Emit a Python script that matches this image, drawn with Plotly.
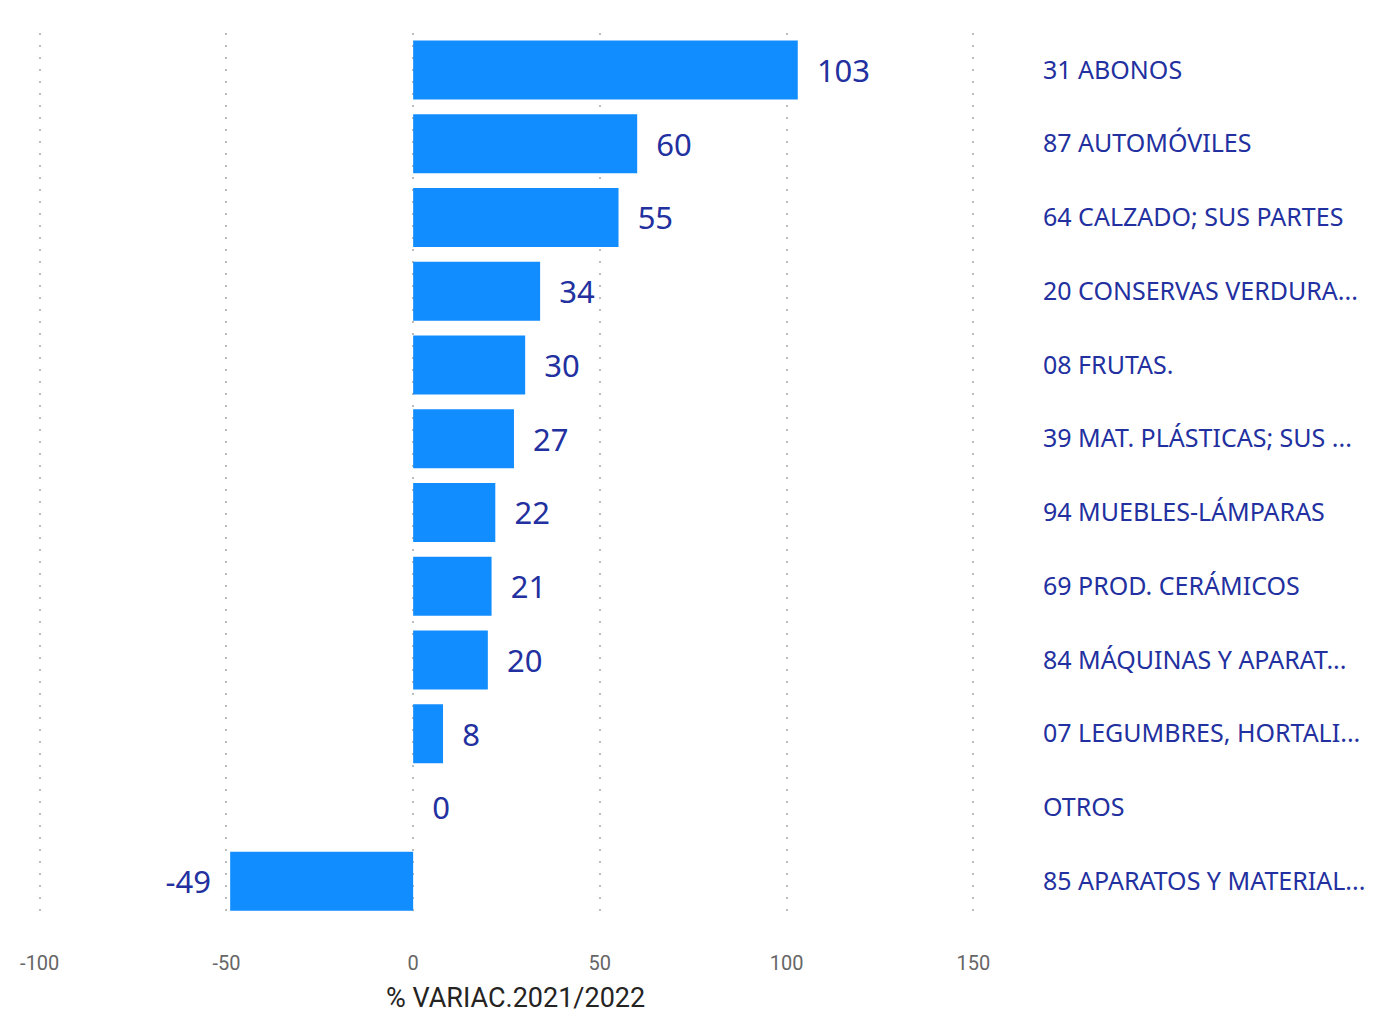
import plotly.graph_objects as go

categories = [
    "31 ABONOS",
    "87 AUTOMÓVILES",
    "64 CALZADO; SUS PARTES",
    "20 CONSERVAS VERDURA...",
    "08 FRUTAS.",
    "39 MAT. PLÁSTICAS; SUS ...",
    "94 MUEBLES-LÁMPARAS",
    "69 PROD. CERÁMICOS",
    "84 MÁQUINAS Y APARAT...",
    "07 LEGUMBRES, HORTALI...",
    "OTROS",
    "85 APARATOS Y MATERIAL...",
]
values = [103, 60, 55, 34, 30, 27, 22, 21, 20, 8, 0, -49]
x_ticks = [-100, -50, 0, 50, 100, 150]
x_title = "% VARIAC.2021/2022"

W, H = 1375, 1012
OFF = 8  # page body margin
# pixel layout (figure coords): -100 -> 32px, 150 -> 965px
px_m100, px_150 = 40 - OFF, 973 - OFF
ppu = (px_150 - px_m100) / 250.0
x_lo, x_hi = -101, 151
left_px = px_m100 + (x_lo + 100) * ppu
right_px = px_150 + (x_hi - 150) * ppu
top_px, bottom_px = 33 - OFF, 918 - OFF

labels = [("\u00a0\u00a0" + str(v)) if v >= 0 else (str(v) + "\u00a0\u00a0") for v in values]

fig = go.Figure(go.Bar(
    x=values,
    y=categories,
    orientation="h",
    marker=dict(color="#118DFF", line=dict(width=0)),
    text=labels,
    textposition="outside",
    cliponaxis=False,
    textfont=dict(family="Segoe UI, Noto Sans, sans-serif", size=31, color="#2230A0"),
    width=0.8,
))

fig.update_layout(
    width=W, height=H,
    margin=dict(l=left_px, r=W - right_px, t=top_px, b=H - bottom_px, pad=0, autoexpand=False),
    plot_bgcolor="white", paper_bgcolor="white",
    showlegend=False,
    bargap=0.2,
    annotations=[dict(
        text=x_title, xref="paper", yref="paper",
        x=(515 - OFF - left_px) / (right_px - left_px), y=0,
        yshift=-(998 - OFF - bottom_px), xanchor="center", yanchor="middle",
        showarrow=False,
        font=dict(family="Roboto, sans-serif", size=27, color="#252423"),
    )],
)
fig.update_xaxes(
    range=[x_lo, x_hi],
    tickvals=x_ticks,
    ticktext=[str(t) for t in x_ticks],
    showgrid=True, gridcolor="#BDBDBD", griddash="2px,10px", gridwidth=1.5,
    zeroline=False, showline=False,
    tickfont=dict(family="Roboto, sans-serif", size=20, color="#666666"),
    ticks="", ticklabelstandoff=31, automargin=False,
)
fig.update_yaxes(
    categoryorder="array", categoryarray=categories[::-1],
    side="right",
    showgrid=False, zeroline=False, showline=False, ticks="",
    ticklabelstandoff=int(round(1042 - OFF - right_px)), automargin=False,
    tickfont=dict(family="Segoe UI, Noto Sans, sans-serif", size=25, color="#2230A0"),
)

fig.write_html("out.html")
